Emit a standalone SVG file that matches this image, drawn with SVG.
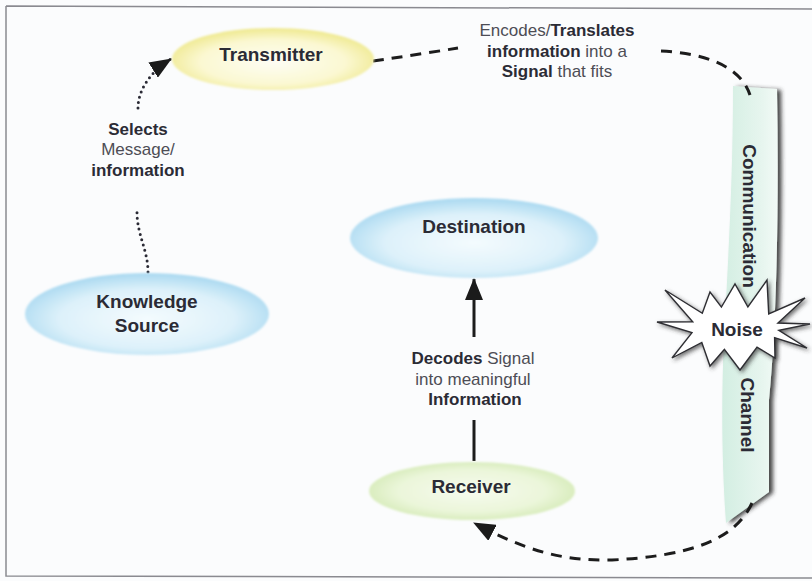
<svg xmlns="http://www.w3.org/2000/svg" width="812" height="581" viewBox="0 0 812 581">
  <defs>
    <style>
      .node-label { font-family: "Liberation Sans", Arial, sans-serif; font-weight: bold; font-size: 19px; fill: #2b2b35; text-anchor: middle; }
      .note { font-family: "Liberation Sans", Arial, sans-serif; font-size: 17px; fill: #4d4d55; text-anchor: middle; }
      .note .b { font-weight: bold; fill: #2b2b35; }
      .dash { fill: none; stroke: #1c1c1c; stroke-width: 3; stroke-dasharray: 11 8; }
      .dots { fill: none; stroke: #2a2a35; stroke-width: 3; stroke-dasharray: 0 5.5; stroke-linecap: round; }
      .solid { fill: none; stroke: #1c1c1c; stroke-width: 3; }
    </style>
    <radialGradient id="gYellow" cx="50%" cy="55%" r="55%">
      <stop offset="0" stop-color="#fefdf4"/>
      <stop offset="0.65" stop-color="#fbf8d2"/>
      <stop offset="1" stop-color="#efe98f"/>
    </radialGradient>
    <radialGradient id="gBlue" cx="50%" cy="56%" r="55%">
      <stop offset="0" stop-color="#f4fbfe"/>
      <stop offset="0.65" stop-color="#ddf1fa"/>
      <stop offset="1" stop-color="#acdaf1"/>
    </radialGradient>
    <radialGradient id="gGreen" cx="50%" cy="50%" r="55%">
      <stop offset="0" stop-color="#f7fbee"/>
      <stop offset="0.65" stop-color="#ebf6da"/>
      <stop offset="1" stop-color="#d4eab5"/>
    </radialGradient>
    <linearGradient id="gChannel" x1="0" y1="0" x2="1" y2="0">
      <stop offset="0" stop-color="#d3eee2"/>
      <stop offset="0.7" stop-color="#e6f5ee"/>
      <stop offset="1" stop-color="#f2faf6"/>
    </linearGradient>
    <filter id="soft" x="-10%" y="-20%" width="120%" height="140%">
      <feGaussianBlur stdDeviation="1.2"/>
    </filter>
    <filter id="shadowRight" x="-30%" y="-5%" width="160%" height="110%">
      <feDropShadow dx="4" dy="1" stdDeviation="2.2" flood-color="#2a2a2a" flood-opacity="0.85"/>
    </filter>
    <filter id="shadowStar" x="-20%" y="-30%" width="140%" height="160%">
      <feDropShadow dx="2" dy="2" stdDeviation="2" flood-color="#333" flood-opacity="0.7"/>
    </filter>
    <marker id="head" viewBox="0 0 22 18" refX="21" refY="9" markerWidth="22" markerHeight="18" markerUnits="userSpaceOnUse" orient="auto">
      <path d="M0,0 L22,9 L0,18 Z" fill="#1b1b1b"/>
    </marker>
  </defs>

  <!-- page background and frame -->
  <rect x="0" y="0" width="812" height="581" fill="#fbfcfd"/>
  <path d="M6,6 L812,9 M6,6 L6,576 L812,578" fill="none" stroke="#8a8a90" stroke-width="1.5"/>

  <!-- communication channel ribbon -->
  <g id="channel">
    <path d="M733,86 L777,89 C779,200 777,320 769,400 L769,492 L726,523 C722,470 721,400 724,340 C728,260 733,180 733,86 Z" fill="url(#gChannel)" filter="url(#shadowRight)"/>
  </g>

  <!-- connectors -->
  <g id="connectors">
    <!-- knowledge source to transmitter (dotted) -->
    <path class="dots" d="M148,272 C148,250 137,235 137,212"/>
    <path class="dots" d="M138,108 C138,90 150,72 171,59" marker-end="url(#head)"/>
    <!-- transmitter to channel (dashed) -->
    <path class="dash" d="M373,61 Q415,55 458,48"/>
    <path class="dash" d="M661,51 C700,53 740,64 750,95"/>
    <!-- channel to receiver (dashed) -->
    <path class="dash" d="M752,503 C735,540 690,556 612,560 C560,561 525,550 474,523" marker-end="url(#head)"/>
    <!-- receiver to destination (solid) -->
    <path class="solid" d="M474,337 L474,279" marker-end="url(#head)"/>
    <path class="solid" d="M474,420 L474,461"/>
  </g>

  <!-- nodes -->
  <g id="transmitter">
    <ellipse cx="273" cy="59" rx="101" ry="31" fill="url(#gYellow)" filter="url(#soft)"/>
    <text class="node-label" x="271" y="61">Transmitter</text>
  </g>

  <g id="destination">
    <ellipse cx="474" cy="238" rx="124" ry="40" fill="url(#gBlue)" filter="url(#soft)"/>
    <text class="node-label" x="474" y="233">Destination</text>
  </g>

  <g id="knowledge-source">
    <ellipse cx="147" cy="314" rx="122" ry="41" fill="url(#gBlue)" filter="url(#soft)"/>
    <text class="node-label" x="147" y="308">Knowledge</text>
    <text class="node-label" x="147" y="332">Source</text>
  </g>

  <g id="receiver">
    <ellipse cx="472" cy="491" rx="103" ry="29" fill="url(#gGreen)" filter="url(#soft)"/>
    <text class="node-label" x="471" y="493">Receiver</text>
  </g>

  <g id="noise">
    <polygon points="657,322 692.7,321.9 665,290 702.3,313.3 710,292 721.4,307.1 735,284 747.9,307 767,280 768.7,313.9 805,298 777.9,323 810,324 778.8,330.3 807,348 774.6,337.6 775,358 757,347.1 740,370 724.4,349.3 710,366 701.8,342.4 672,358 692,332.6" fill="#ffffff" stroke="#2e2e33" stroke-width="1.4" stroke-linejoin="miter" filter="url(#shadowStar)"/>
    <text class="node-label" x="737" y="336" font-size="21">Noise</text>
  </g>

  <!-- channel captions -->
  <g id="channel-labels">
    <text class="node-label" transform="translate(743,216) rotate(90)" x="0" y="0" font-size="18">Communication</text>
    <text class="node-label" transform="translate(741,415) rotate(90)" x="0" y="0" font-size="18">Channel</text>
  </g>

  <!-- connector labels -->
  <g id="labels">
    <text class="note" x="138" y="135"><tspan class="b">Selects</tspan></text>
    <text class="note" x="138" y="155" fill="#5a4d62">Message/</text>
    <text class="note" x="138" y="176"><tspan class="b">information</tspan></text>

    <text class="note" x="557" y="36">Encodes/<tspan class="b">Translates</tspan></text>
    <text class="note" x="557" y="57"><tspan class="b">information</tspan> into a</text>
    <text class="note" x="557" y="77"><tspan class="b">Signal</tspan> that fits</text>

    <text class="note" x="473" y="364"><tspan class="b">Decodes</tspan> Signal</text>
    <text class="note" x="473" y="385">into meaningful</text>
    <text class="note" x="475" y="405"><tspan class="b">Information</tspan></text>
  </g>
</svg>
